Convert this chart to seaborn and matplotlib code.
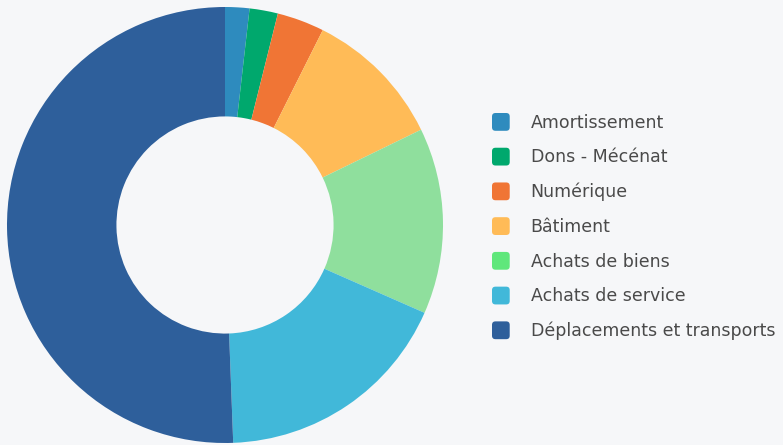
import matplotlib
matplotlib.use("Agg")
import matplotlib.pyplot as plt
import seaborn as sns
from matplotlib.patches import Patch, FancyBboxPatch
from matplotlib.legend_handler import HandlerPatch

# ---- data ----
categories = ['Amortissement', 'Dons - Mécénat', 'Numérique', 'Bâtiment',
              'Achats de biens', 'Achats de service', 'Déplacements et transports']
shares = [1.8, 2.1, 3.5, 10.4, 13.8, 17.8, 50.6]

# ---- style ----
slice_colors = ['#2E8BBE', '#00A86D', '#F07535', '#FFBB57', '#8FDF9D', '#41B8D9', '#2E5F9B']
legend_colors = ['#2E8BBE', '#00A86D', '#F07535', '#FFBB57', '#5FE77B', '#41B8D9', '#2E5F9B']
BG = '#F6F7F9'
TXT = '#4A4A4A'

sns.set_theme(style='white')
plt.rcParams['font.family'] = ['DejaVu Sans']


class RoundSquare(HandlerPatch):
    # legend marker: small square with slightly rounded corners
    def create_artists(self, legend, orig, xd, yd, width, height, fontsize, trans):
        p = FancyBboxPatch((-xd, -yd), width, height,
                           boxstyle='round,pad=0,rounding_size=2.5',
                           facecolor=orig.get_facecolor(), edgecolor='none',
                           transform=trans)
        return [p]


W, H = 783, 445
fig = plt.figure(figsize=(W / 100, H / 100), dpi=100, facecolor=BG)

# donut: centre (225,225), outer radius ~218 px
cx, cy, r = 225, 225, 218
ax = fig.add_axes([(cx - r) / W, (H - cy - r) / H, 2 * r / W, 2 * r / H])
ax.set_facecolor(BG)
wedges, _ = ax.pie(shares, colors=slice_colors, startangle=90, counterclock=False,
                   radius=1, wedgeprops=dict(width=0.502, linewidth=0))
ax.set_xlim(-1, 1)
ax.set_ylim(-1, 1)
ax.axis('off')

handles = [Patch(facecolor=c, edgecolor='none') for c in legend_colors]
fig.legend(handles, categories, loc='upper left',
           bbox_to_anchor=(492 / W, 1 - 113 / H),
           frameon=False, fontsize=12.5, labelcolor=TXT,
           handler_map={Patch: RoundSquare()},
           handlelength=1.02, handleheight=1.2, handletextpad=1.2,
           labelspacing=0.92, borderaxespad=0, borderpad=0)

fig.savefig('out.png', dpi=100, facecolor=BG)
